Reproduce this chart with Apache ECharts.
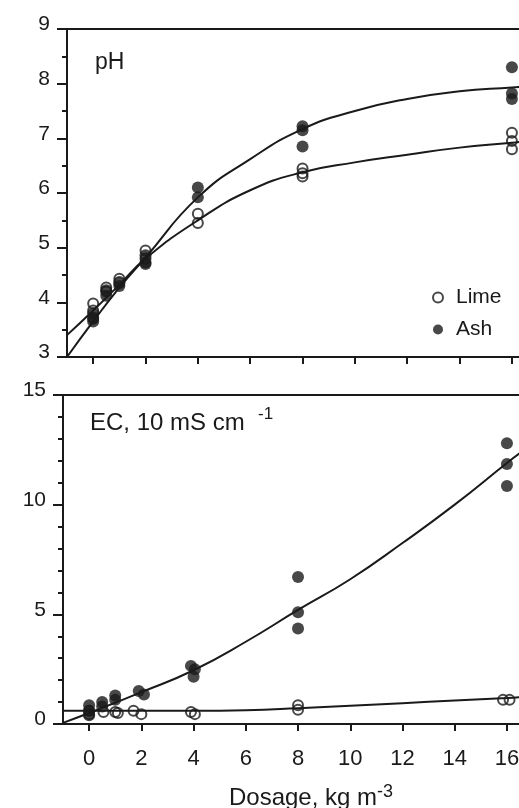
<!DOCTYPE html>
<html>
<head>
<meta charset="utf-8">
<script src="https://cdn.jsdelivr.net/npm/echarts@6/dist/echarts.min.js"></script>
<style>
html,body{margin:0;padding:0;background:#fff;}
#chart{width:519px;height:808px;}
</style>
</head>
<body>
<div id="chart"></div>
<script>
// ---- data ----
const xTicks = [0, 2, 4, 6, 8, 10, 12, 14, 16];
// pH panel observations [dosage, pH]
const limePH = [[0,3.98],[0,3.85],[0,3.72],[0.5,4.27],[0.5,4.2],[1,4.43],[1,4.37],[2,4.95],[2,4.8],[4,5.62],[4,5.45],[8,6.45],[8,6.36],[8,6.3],[16,7.1],[16,6.95],[16,6.8]];
const ashPH = [[0,3.8],[0,3.7],[0,3.65],[0.5,4.22],[0.5,4.12],[1,4.35],[1,4.3],[2,4.86],[2,4.73],[2,4.7],[4,6.1],[4,5.92],[8,7.22],[8,7.15],[8,6.85],[16,8.3],[16,7.82],[16,7.72]];
// EC panel observations [dosage, EC]
const limeEC = [[0,0.6],[0,0.45],[0.55,0.55],[1,0.55],[1.1,0.5],[1.7,0.6],[2,0.45],[3.9,0.55],[4.05,0.45],[8,0.85],[8,0.65],[15.85,1.1],[16.1,1.1]];
const ashEC = [[0,0.85],[0,0.6],[0,0.4],[0.5,1.0],[0.5,0.8],[1,1.3],[1,1.1],[1.9,1.5],[2.1,1.35],[3.9,2.65],[4.05,2.5],[4,2.15],[8,6.7],[8,5.1],[8,4.35],[16,12.8],[16,11.85],[16,10.85]];
// fitted curves, read at these dosages
const curveX = [-1, 0, 1, 2, 4, 6, 8, 10, 12, 14, 16, 16.5];
const limePHfit = [3.4, 3.85, 4.32, 4.8, 5.5, 6.05, 6.38, 6.56, 6.7, 6.83, 6.92, 6.95];
const ashPHfit = [3.0, 3.65, 4.27, 4.82, 5.92, 6.62, 7.17, 7.5, 7.72, 7.86, 7.93, 7.95];
const limeECfit = [0.6, 0.6, 0.6, 0.6, 0.6, 0.63, 0.72, 0.83, 0.95, 1.07, 1.18, 1.22];
const ashECfit = [0.05, 0.5, 0.97, 1.45, 2.45, 3.75, 5.2, 6.6, 8.25, 10.0, 11.9, 12.35];

const FONT = "'Liberation Sans', Arial, sans-serif";
const INK = '#1a1a1a';
const zip = (xs, ys) => xs.map((x, i) => [x, ys[i]]);

function xAxisDef(gridIndex, showLabels) {
  return {
    type: 'value', gridIndex: gridIndex, min: -1, max: 16.5, position: 'bottom',
    axisLine: { onZero: false, lineStyle: { color: INK, width: 2 } },
    axisTick: { show: true, inside: false, length: 7, customValues: xTicks, lineStyle: { color: INK, width: 2 } },
    axisLabel: { show: showLabels, customValues: xTicks, color: INK, fontSize: 22, fontFamily: FONT, margin: 24 },
    splitLine: { show: false },
    name: showLabels ? 'Dosage, kg m{sup|-3}' : '',
    nameLocation: 'middle', nameGap: 59,
    nameTextStyle: {
      color: INK, fontSize: 24, fontFamily: FONT, padding: [0, 0, 0, 39],
      rich: { sup: { fontSize: 18, fontFamily: FONT, color: INK, verticalAlign: 'top', padding: [0, 0, 12, 0] } }
    }
  };
}
function topAxisDef(gridIndex) {
  return {
    type: 'value', gridIndex: gridIndex, min: -1, max: 16.5, position: 'top',
    axisLine: { onZero: false, lineStyle: { color: INK, width: 2 } },
    axisTick: { show: false }, axisLabel: { show: false }, splitLine: { show: false }
  };
}
function yAxisDef(gridIndex, min, max, interval, minorSplit) {
  return {
    type: 'value', gridIndex: gridIndex, min: min, max: max, interval: interval,
    axisLine: { show: true, onZero: false, lineStyle: { color: INK, width: 2 } },
    axisTick: { show: true, inside: false, length: 10, lineStyle: { color: INK, width: 2 } },
    minorTick: { show: true, splitNumber: minorSplit, length: 5, lineStyle: { color: INK, width: 2 } },
    axisLabel: { color: INK, fontSize: 21, fontFamily: FONT, margin: 17, verticalAlign: 'bottom', lineHeight: 9 },
    splitLine: { show: false }
  };
}
const limeStyle = { color: 'rgba(0,0,0,0)', borderColor: INK, borderWidth: 2 };
const ashStyle = { color: INK };
const lineStyle = { color: INK, width: 2 };

const option = {
  backgroundColor: '#fff',
  animation: false,
  grid: [
    { left: 67, top: 29, width: 458, height: 328, outerBoundsMode: 'none', containLabel: false },
    { left: 63, top: 395, width: 457, height: 329, outerBoundsMode: 'none', containLabel: false }
  ],
  xAxis: [xAxisDef(0, false), xAxisDef(1, true), topAxisDef(0), topAxisDef(1)],
  yAxis: [yAxisDef(0, 3, 9, 1, 2), yAxisDef(1, 0, 15, 5, 5)],
  legend: {
    data: ['Lime', 'Ash'], orient: 'vertical', left: 432, top: 287, padding: 0,
    itemWidth: 10, itemHeight: 11, itemGap: 11,
    textStyle: { color: INK, fontSize: 21, fontFamily: FONT, lineHeight: 21, padding: [0, 0, 0, 8] }
  },
  graphic: [
    { type: 'text', left: 95, top: 51, style: { text: 'pH', fontSize: 23, fontFamily: FONT, fill: INK } },
    { type: 'text', left: 90, top: 406, style: {
        text: 'EC, 10 mS cm  {sup|-1}', fontSize: 24, fontFamily: FONT, fill: INK,
        rich: { sup: { fontSize: 17, fontFamily: FONT, fill: INK, verticalAlign: 'top', padding: [0, 0, 18, 0] } }
      } }
  ],
  series: [
    { name: 'Ash fit pH', type: 'line', xAxisIndex: 0, yAxisIndex: 0, data: zip(curveX, ashPHfit), smooth: true, showSymbol: false, lineStyle: lineStyle, z: 2 },
    { name: 'Lime fit pH', type: 'line', xAxisIndex: 0, yAxisIndex: 0, data: zip(curveX, limePHfit), smooth: true, showSymbol: false, lineStyle: lineStyle, z: 2 },
    { name: 'Ash fit EC', type: 'line', xAxisIndex: 1, yAxisIndex: 1, data: zip(curveX, ashECfit), smooth: true, showSymbol: false, lineStyle: lineStyle, z: 2 },
    { name: 'Lime fit EC', type: 'line', xAxisIndex: 1, yAxisIndex: 1, data: zip(curveX, limeECfit), smooth: true, showSymbol: false, lineStyle: lineStyle, z: 2 },
    { name: 'Ash', type: 'scatter', xAxisIndex: 0, yAxisIndex: 0, data: ashPH, symbol: 'circle', symbolSize: 12, itemStyle: ashStyle, z: 3 },
    { name: 'Lime', type: 'scatter', xAxisIndex: 0, yAxisIndex: 0, data: limePH, symbol: 'circle', symbolSize: 10, itemStyle: limeStyle, z: 4 },
    { name: 'Ash', type: 'scatter', xAxisIndex: 1, yAxisIndex: 1, data: ashEC, symbol: 'circle', symbolSize: 12, itemStyle: ashStyle, z: 3 },
    { name: 'Lime', type: 'scatter', xAxisIndex: 1, yAxisIndex: 1, data: limeEC, symbol: 'circle', symbolSize: 10, itemStyle: limeStyle, z: 4 }
  ]
};
const chart = echarts.init(document.getElementById('chart'), null, { renderer: 'canvas' });
chart.setOption(option);
</script>
</body>
</html>
